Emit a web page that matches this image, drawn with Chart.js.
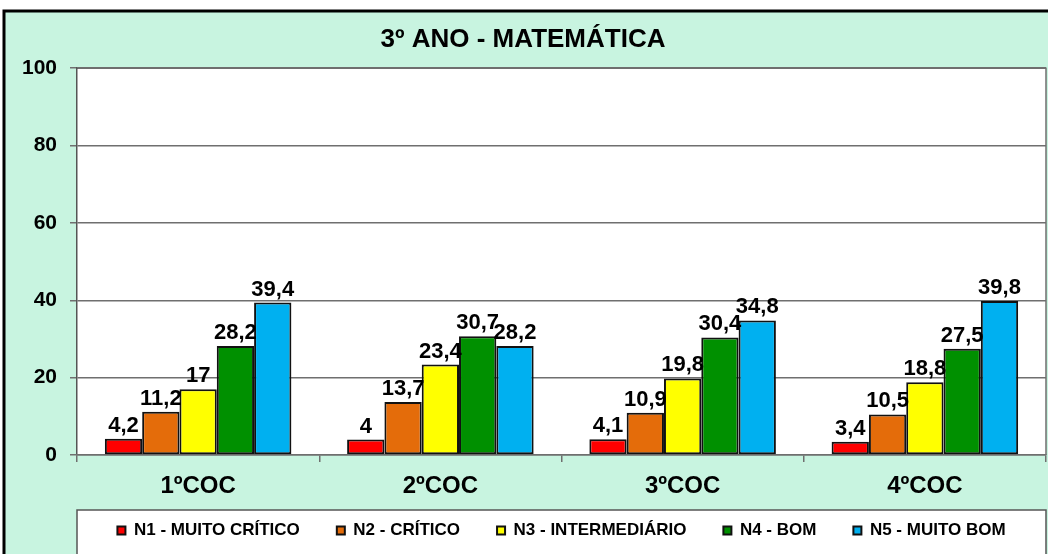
<!DOCTYPE html>
<html>
<head>
<meta charset="utf-8">
<script src="https://cdn.jsdelivr.net/npm/chart.js@4"></script>
<style>
  html, body { margin: 0; padding: 0; background: #ffffff; }
  #wrap { width: 1048px; height: 554px; position: relative; }
</style>
</head>
<body>
<div id="wrap"><canvas id="notasChart" width="1048" height="554"></canvas></div>
<script>
// dados do grafico
var categorias = ["1ºCOC", "2ºCOC", "3ºCOC", "4ºCOC"];
var niveis = ["N1 - MUITO CRÍTICO", "N2 - CRÍTICO", "N3 - INTERMEDIÁRIO", "N4 - BOM", "N5 - MUITO BOM"];
var n1 = [4.2, 4, 4.1, 3.4];
var n2 = [11.2, 13.7, 10.9, 10.5];
var n3 = [17, 23.4, 19.8, 18.8];
var n4 = [28.2, 30.7, 30.4, 27.5];
var n5 = [39.4, 28.2, 34.8, 39.8];
var yTicks = [0, 20, 40, 60, 80, 100];

var cores = ["#FF0000", "#E46C0A", "#FFFF00", "#009000", "#00B0F0"];
var series = [n1, n2, n3, n4, n5];
var fonte = "'Liberation Sans', Arial, sans-serif";
var menta = "#C8F4E0";

// fundo, moldura e caixa da legenda
var fundoPlugin = {
    id: "fundo",
    beforeDraw: function (chart) {
        var ctx = chart.ctx;
        var a = chart.chartArea;
        ctx.save();
        ctx.fillStyle = "#ffffff";
        ctx.fillRect(0, 0, chart.width, chart.height);
        ctx.fillStyle = menta;
        ctx.fillRect(4, 11, chart.width - 4, chart.height - 11);
        ctx.strokeStyle = "#000000";
        ctx.lineWidth = 3;
        ctx.beginPath();
        ctx.moveTo(4, chart.height);
        ctx.lineTo(4, 11);
        ctx.lineTo(chart.width, 11);
        ctx.stroke();
        // area do grafico
        ctx.fillStyle = "#ffffff";
        ctx.fillRect(a.left, a.top, a.right - a.left, a.bottom - a.top);
        ctx.strokeStyle = "#6f6f6f";
        ctx.lineWidth = 1.5;
        ctx.beginPath();
        ctx.moveTo(a.left, a.top);
        ctx.lineTo(a.right, a.top);
        ctx.lineTo(a.right, a.bottom);
        ctx.stroke();
        // caixa da legenda
        ctx.fillStyle = "#ffffff";
        ctx.fillRect(a.left, 510, a.right - a.left, chart.height);
        ctx.strokeStyle = "#555555";
        ctx.strokeRect(a.left, 510, a.right - a.left, chart.height);
        ctx.restore();
    }
};

// rotulos de valor em cima das barras + nomes das categorias
var rotulosPlugin = {
    id: "rotulos",
    afterDatasetsDraw: function (chart) {
        var ctx = chart.ctx;
        ctx.save();
        ctx.font = "bold 22px " + fonte;
        ctx.fillStyle = "#000000";
        ctx.textAlign = "center";
        ctx.textBaseline = "bottom";
        chart.data.datasets.forEach(function (ds, i) {
            var meta = chart.getDatasetMeta(i);
            meta.data.forEach(function (bar, j) {
                var txt = String(ds.data[j]).replace(".", ",");
                ctx.fillText(txt, bar.x, bar.y - 2);
            });
        });
        // categorias do eixo x (fora da area de recorte do eixo)
        var xs = chart.scales.x;
        ctx.font = "bold 24px " + fonte;
        ctx.textBaseline = "middle";
        chart.data.labels.forEach(function (lab, i) {
            ctx.fillText(lab, xs.getPixelForTick(i), xs.top + 31);
        });
        ctx.restore();
    }
};

var datasets = series.map(function (valores, i) {
    return {
        label: niveis[i],
        data: valores,
        backgroundColor: cores[i],
        borderColor: "#111111",
        borderWidth: 2,
        borderSkipped: false,
        categoryPercentage: 0.77,
        barPercentage: 1.0
    };
});

var chart = new Chart(document.getElementById("notasChart"), {
    type: "bar",
    data: {
        labels: categorias,
        datasets: datasets
    },
    options: {
        responsive: false,
        animation: false,
        layout: {
            padding: { left: 0, right: 2, top: 0, bottom: 5 }
        },
        scales: {
            y: {
                min: 0,
                max: 100,
                afterFit: function (scale) { scale.width = 77; },
                afterBuildTicks: function (scale) {
                    scale.ticks = yTicks.map(function (v) { return { value: v }; });
                },
                grid: {
                    color: "#6f6f6f",
                    lineWidth: 1.5,
                    tickLength: 7,
                    tickColor: "#6f6f6f"
                },
                border: { color: "#555555", width: 1.5 },
                ticks: {
                    padding: 13,
                    color: "#000000",
                    font: { family: fonte, size: 21, weight: "bold" }
                }
            },
            x: {
                afterFit: function (scale) { scale.height = 30; },
                grid: {
                    drawOnChartArea: false,
                    tickLength: 7,
                    color: "#6f6f6f",
                    lineWidth: 1.5
                },
                border: { color: "#6f6f6f", width: 1.5 },
                ticks: { display: false }
            }
        },
        plugins: {
            title: {
                display: true,
                text: "3º ANO - MATEMÁTICA",
                color: "#000000",
                font: { family: fonte, size: 26, weight: "bold" },
                padding: { top: 24, bottom: 13 }
            },
            legend: {
                position: "bottom",
                fullSize: false,
                labels: {
                    boxWidth: 8,
                    boxHeight: 8,
                    padding: 37,
                    color: "#000000",
                    font: { family: fonte, size: 17, weight: "bold" }
                }
            },
            tooltip: { enabled: false }
        }
    },
    plugins: [fundoPlugin, rotulosPlugin]
});
</script>
</body>
</html>
